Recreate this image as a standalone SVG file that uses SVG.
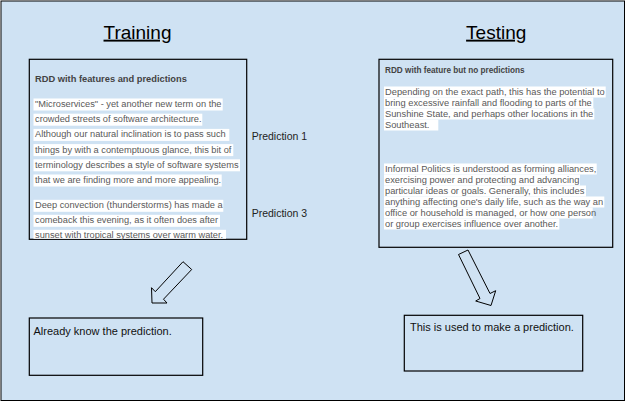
<svg xmlns="http://www.w3.org/2000/svg" width="626" height="404" viewBox="0 0 626 404">
<style>
text{font-family:"Liberation Sans",Arial,sans-serif}
.frame{fill:#cfe2f3;stroke:#000;stroke-width:1}
.box{fill:none;stroke:#000;stroke-width:1.2}
.title{font-size:19px;fill:#000;text-anchor:middle;text-decoration:underline}
.hdr{font-weight:bold;fill:#434343}
.p{font-size:9.25px;fill:#595959}
.pr{font-size:9.3px;fill:#595959}
.hl{fill:#ffffff}
.lbl{font-size:10.5px;fill:#222}
.note{font-size:11px;fill:#111}
.arrow{fill:#cfe2f3;stroke:#000;stroke-width:1;stroke-linejoin:miter}
</style>
<rect class="frame" x="1" y="1" width="623.5" height="399.5"/>
<g id="title-training"><text class="title" x="137.5" y="38.7">Training</text></g>
<g id="title-testing"><text class="title" x="496.2" y="38.7">Testing</text></g>
<g id="training-rdd">
<rect class="box" x="29.3" y="59.3" width="217.4" height="180"/>
<text class="hdr" x="35" y="81.7" font-size="9.3">RDD with features and predictions</text>
<g class="hl">
<rect x="33.5" y="98.5" width="189.2" height="12"/>
<rect x="33.5" y="113.7" width="168.8" height="12"/>
<rect x="33.5" y="128.9" width="195.8" height="12"/>
<rect x="33.5" y="144.1" width="199.8" height="12"/>
<rect x="33.5" y="159.3" width="206.5" height="12"/>
<rect x="33.5" y="174.5" width="188.2" height="12"/>
<rect x="33.5" y="199.8" width="189.8" height="12"/>
<rect x="33.5" y="214.8" width="186.5" height="12"/>
<rect x="33.5" y="229.8" width="192.5" height="9"/>
</g>
<text class="p" x="35" y="107">"Microservices" - yet another new term on the</text>
<text class="p" x="35" y="122.2">crowded streets of software architecture.</text>
<text class="p" x="35" y="137.4">Although our natural inclination is to pass such</text>
<text class="p" x="35" y="152.6">things by with a contemptuous glance, this bit of</text>
<text class="p" x="35" y="167.8">terminology describes a style of software systems</text>
<text class="p" x="35" y="183">that we are finding more and more appealing.</text>
<text class="p" x="35" y="208.3">Deep convection (thunderstorms) has made a</text>
<text class="p" x="35" y="223.3">comeback this evening, as it often does after</text>
<text class="p" x="35" y="238.3">sunset with tropical systems over warm water.</text>
</g>
<g id="prediction-1"><text class="lbl" x="251.7" y="140.3">Prediction 1</text></g>
<g id="prediction-3"><text class="lbl" x="251.7" y="216.5">Prediction 3</text></g>
<g id="testing-rdd">
<rect class="box" x="379" y="59.3" width="233.7" height="188"/>
<text class="hdr" x="385" y="72.7" font-size="8.2">RDD with feature but no predictions</text>
<g class="hl">
<rect x="384" y="86.5" width="221.7" height="11"/>
<rect x="384" y="97.5" width="209.3" height="11"/>
<rect x="384" y="108.5" width="210.3" height="11"/>
<rect x="384" y="119.5" width="54.3" height="11"/>
<rect x="384" y="163.5" width="212.7" height="11"/>
<rect x="384" y="174.5" width="196" height="11"/>
<rect x="384" y="185.5" width="202" height="11"/>
<rect x="384" y="196.5" width="220.3" height="11"/>
<rect x="384" y="207.5" width="208.7" height="11"/>
<rect x="384" y="218.5" width="175.3" height="11"/>
</g>
<text class="pr" x="385" y="94.5">Depending on the exact path, this has the potential to</text>
<text class="pr" x="385" y="105.5">bring excessive rainfall and flooding to parts of the</text>
<text class="pr" x="385" y="116.5">Sunshine State, and perhaps other locations in the</text>
<text class="pr" x="385" y="127.5">Southeast.</text>
<text class="pr" x="385" y="171.5">Informal Politics is understood as forming alliances,</text>
<text class="pr" x="385" y="182.5">exercising power and protecting and advancing</text>
<text class="pr" x="385" y="193.5">particular ideas or goals. Generally, this includes</text>
<text class="pr" x="385" y="204.5">anything affecting one's daily life, such as the way an</text>
<text class="pr" x="385" y="215.5">office or household is managed, or how one person</text>
<text class="pr" x="385" y="226.5">or group exercises influence over another.</text>
</g>
<g id="connectors">
<polygon class="arrow" points="152,303 151.5,287.7 155.3,291.7 183,261.7 191.7,269.5 163.5,299.2 167,303"/>
<polygon class="arrow" points="458.5,254.5 468,250 490,293.5 495.7,290.7 491,305.5 475.7,301 480,298.5"/>
</g>
<g id="already-know">
<rect class="box" x="29.3" y="318" width="173.4" height="57.3"/>
<text class="note" x="33.5" y="334.5">Already know the prediction.</text>
</g>
<g id="used-to-predict">
<rect class="box" x="404.3" y="315.3" width="178.4" height="55.7"/>
<text class="note" x="410" y="331">This is used to make a prediction.</text>
</g>
</svg>
